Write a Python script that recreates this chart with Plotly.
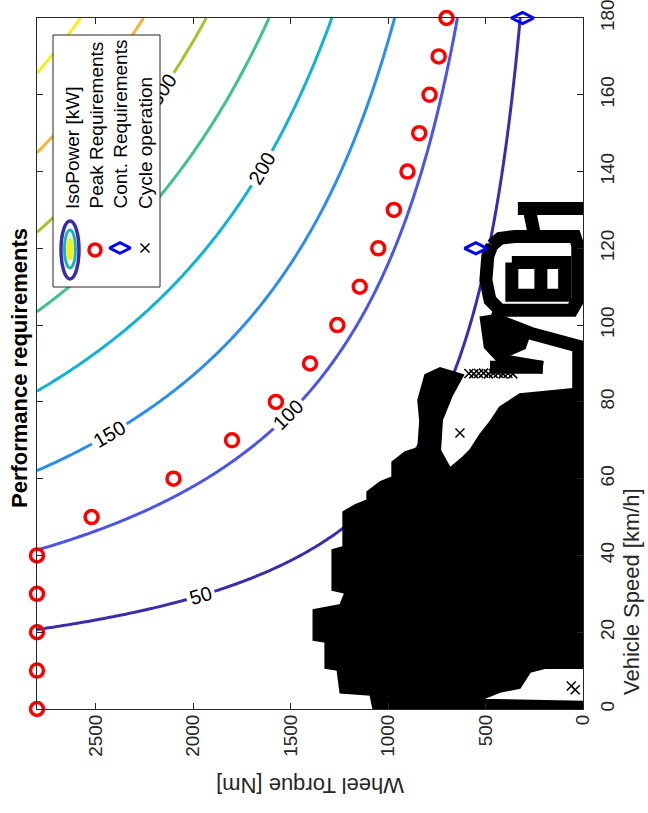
import numpy as np
import plotly.graph_objects as go

# ---- requirement points ----
peak_speed = [0, 10, 20, 30, 40, 50, 60, 70, 80, 90, 100, 110, 120, 130, 140, 150, 160, 170, 180]
peak_torque = [2800, 2800, 2800, 2800, 2800, 2520, 2100, 1800, 1575, 1400, 1260, 1145, 1050,
               970, 900, 840, 787, 740, 700]

cont_speed = [120, 180]
cont_torque = [550, 310]

# ---- iso-power map ----
wheel_radius = 0.322          # m
torque_axis = np.arange(0, 2801, 20)     # Nm
speed_axis = np.arange(0, 181, 1)        # km/h
power_levels = [50, 100, 150, 200, 250, 300, 350, 400]   # kW
level_colors = ['#3b2cae', '#4a55e8', '#2c8df0', '#0fb3d6',
                '#3cc38b', '#a9c02e', '#f8b43a', '#f4ee1a']

# ---- cycle operation: dense region outlines (torque Nm / speed km/h) ----
# segments separated by None
cycle_fill_torque = [
    0, 324, 426, 477, 528, 579, 615, 682, 733, 723, 671, 615, 733, 809, 845,
    835, 845, 912, 978, 978, 1040, 1106, 1106, 1168, 1229, 1229, 1285, 1285,
    1219, 1244, 1382, 1382, 1321, 1321, 1259, 1244, 1090, 1075,
    0, 0, 528, 426, 324, 271, 196, 0, 0, None,
    477, 271, 298, 400, 477, 477]
cycle_fill_speed = [
    83.6, 82.0, 78.6, 74.7, 71.4, 67.4, 65.6, 62.7, 67.4, 75.3, 81.8, 87.0, 88.8, 87.0, 80.5,
    75.0, 68.0, 66.9, 64.3, 60.4, 59.1, 56.5, 54.4, 53.1, 51.3, 42.2, 41.4, 31.0,
    30.3, 27.1, 25.8, 18.0, 17.5, 10.7, 10.2, 4.3, 3.7, 0,
    0, 1.9, 2.4, 4.5, 5.5, 9.7, 10.7, 10.7, 83.6, None,
    102.0, 97.9, 94.0, 91.7, 93.5, 102.0]

# cycle trajectory bands at higher speed (segments separated by None)
cycle_band_torque = [0, 334, None,
                     271, 247, None,
                     467, 426, 349, 42, 27, 27, 57, 426, 477, 498, 488, 467, None,
                     365, 94, 94, 365, 365, None,
                     216, 216, None,
                     477, 271, 0, None,
                     498, 477, 400, 206, None,
                     477, 206, None,
                     22, 22]
cycle_band_speed = [130.4, 130.4, None,
                    129.0, 123.0, None,
                    120.8, 122.6, 123.1, 123.1, 120.8, 106.5, 103.9, 103.9, 106.5, 111.7, 118.0, 120.8, None,
                    116.3, 116.3, 107.8, 107.8, 116.3, None,
                    115.0, 109.0, None,
                    102.0, 97.9, 94.2, None,
                    102.5, 94.8, 90.6, 89.0, None,
                    89.0, 89.0, None,
                    94.8, 83.1]

# isolated cycle points
cycle_pt_torque = [360, 385, 410, 435, 460, 485, 510, 535, 560, 585, 631, 1202, 40, 60, 650, 700]
cycle_pt_speed = [87.3, 87.4, 87.3, 87.5, 87.4, 87.3, 87.5, 87.4, 87.3, 87.4, 71.9, 40.7,
                  5.0, 6.0, 0.4, 0.4]

FONT = 'Liberation Sans, Arial, Helvetica, sans-serif'
AX = '#262626'

T, V = np.meshgrid(torque_axis, speed_axis)
power_kw = T * (V / 3.6) / wheel_radius / 1000.0

lo, hi = power_levels[0], power_levels[-1]
colorscale = [[(p - lo) / (hi - lo), c] for p, c in zip(power_levels, level_colors)]

fig = go.Figure()

fig.add_trace(go.Contour(
    x=torque_axis, y=speed_axis, z=power_kw,
    autocontour=False,
    contours=dict(coloring='lines', start=lo, end=hi, size=50, showlabels=True,
                  labelfont=dict(size=20, color='black', family=FONT)),
    line=dict(width=3),
    colorscale=colorscale, zmin=lo, zmax=hi, zauto=False,
    showscale=False, hoverinfo='skip'))

fig.add_trace(go.Scatter(
    x=cycle_fill_torque, y=cycle_fill_speed, mode='lines', fill='toself',
    fillcolor='black', line=dict(color='black', width=2), hoverinfo='skip'))

fig.add_trace(go.Scatter(
    x=cycle_band_torque, y=cycle_band_speed, mode='lines',
    line=dict(color='black', width=13), connectgaps=False, hoverinfo='skip'))

fig.add_trace(go.Scatter(
    x=cycle_pt_torque, y=cycle_pt_speed, mode='markers',
    marker=dict(symbol='x-thin', size=9, color='black', line=dict(width=1.5, color='black')),
    hoverinfo='skip'))

fig.add_trace(go.Scatter(
    x=peak_torque, y=peak_speed, mode='markers', cliponaxis=False,
    marker=dict(symbol='circle-open', size=13, color='#ff0000',
                line=dict(width=3.5, color='#ff0000'))))

fig.add_trace(go.Scatter(
    x=cont_torque, y=cont_speed, mode='markers', cliponaxis=False,
    marker=dict(symbol='diamond-wide-open', size=16, color='#0000ff',
                line=dict(width=3, color='#0000ff'))))

# ---- legend drawn on an overlay frame (0..1 over the plot area) ----
def px_x(p):
    return (p - 37) / 546.0

def px_y(p):
    return (709 - p) / 691.0

box_x = [px_x(53), px_x(160), px_x(160), px_x(53), px_x(53)]
box_y = [px_y(35), px_y(35), px_y(287), px_y(287), px_y(35)]
fig.add_trace(go.Scatter(x=box_x, y=box_y, xaxis='x2', yaxis='y2', mode='lines',
                         fill='toself', fillcolor='white',
                         line=dict(color=AX, width=1), hoverinfo='skip'))
fig.add_trace(go.Scatter(x=[px_x(95)], y=[px_y(250)], xaxis='x2', yaxis='y2', mode='markers',
                         marker=dict(symbol='circle-open', size=12, color='#ff0000',
                                     line=dict(width=3.5, color='#ff0000')), hoverinfo='skip'))
fig.add_trace(go.Scatter(x=[px_x(120)], y=[px_y(248)], xaxis='x2', yaxis='y2', mode='markers',
                         marker=dict(symbol='diamond-wide-open', size=15, color='#0000ff',
                                     line=dict(width=3, color='#0000ff')), hoverinfo='skip'))
fig.add_trace(go.Scatter(x=[px_x(145)], y=[px_y(248)], xaxis='x2', yaxis='y2', mode='markers',
                         marker=dict(symbol='x-thin', size=9, color='black',
                                     line=dict(width=1.5, color='black')), hoverinfo='skip'))

shapes = [
    dict(type='circle', xref='x2', yref='y2', x0=px_x(61), x1=px_x(79), y0=px_y(221), y1=px_y(279),
         line=dict(color=level_colors[0], width=3.5), layer='above'),
    dict(type='circle', xref='x2', yref='y2', x0=px_x(64.5), x1=px_x(75.5), y0=px_y(230), y1=px_y(268),
         line=dict(color='#19b4b8', width=3), layer='above'),
    dict(type='circle', xref='x2', yref='y2', x0=px_x(68), x1=px_x(72), y0=px_y(239), y1=px_y(259),
         line=dict(color='#f4ee1a', width=3), fillcolor='#f4ee1a', layer='above'),
]

legend_labels = ['IsoPower [kW]', 'Peak Requirements', 'Cont. Requirements', 'Cycle operation']
legend_cols = [72, 96, 120, 145]
annotations = []
for txt, cx in zip(legend_labels, legend_cols):
    annotations.append(dict(text=txt, xref='paper', yref='paper', x=px_x(cx), y=px_y(211),
                            xanchor='center', yanchor='bottom', textangle=-90, showarrow=False,
                            font=dict(size=19, color='black', family=FONT)))

annotations += [
    dict(text='<b>Performance requirements</b>', xref='paper', yref='paper',
         x=px_x(19), y=px_y(368), xanchor='center', yanchor='middle', textangle=-90,
         showarrow=False, font=dict(size=22, color='black', family=FONT)),
    dict(text='Wheel Torque [Nm]', xref='paper', yref='paper', x=px_x(310), y=px_y(786),
         xanchor='center', yanchor='middle', textangle=180, showarrow=False,
         font=dict(size=22, color=AX, family=FONT)),
    dict(text='Vehicle Speed [km/h]', xref='paper', yref='paper', x=px_x(631), y=px_y(592),
         xanchor='center', yanchor='middle', textangle=-90, showarrow=False,
         font=dict(size=22, color=AX, family=FONT)),
]

axis_common = dict(showgrid=False, zeroline=False, showline=True, linecolor=AX, linewidth=1,
                   mirror='ticks', ticks='inside', ticklen=6, tickcolor=AX, tickwidth=1,
                   tickangle=-90, ticklabeloverflow='allow', automargin=False,
                   tickfont=dict(size=19, color=AX, family=FONT))

fig.update_layout(
    width=648, height=813,
    margin=dict(l=37, r=65, t=18, b=104, autoexpand=False),
    paper_bgcolor='white', plot_bgcolor='white',
    showlegend=False,
    xaxis=dict(range=[2800, 0], tickvals=[0, 500, 1000, 1500, 2000, 2500],
               ticklabelstandoff=-3, **axis_common),
    yaxis=dict(range=[0, 180], side='right', tickvals=list(range(0, 181, 20)),
               ticklabelstandoff=7, **axis_common),
    xaxis2=dict(overlaying='x', range=[0, 1], visible=False, fixedrange=True),
    yaxis2=dict(overlaying='y', range=[0, 1], visible=False, fixedrange=True),
    shapes=shapes,
    annotations=annotations,
)

fig.write_html('out.html')
